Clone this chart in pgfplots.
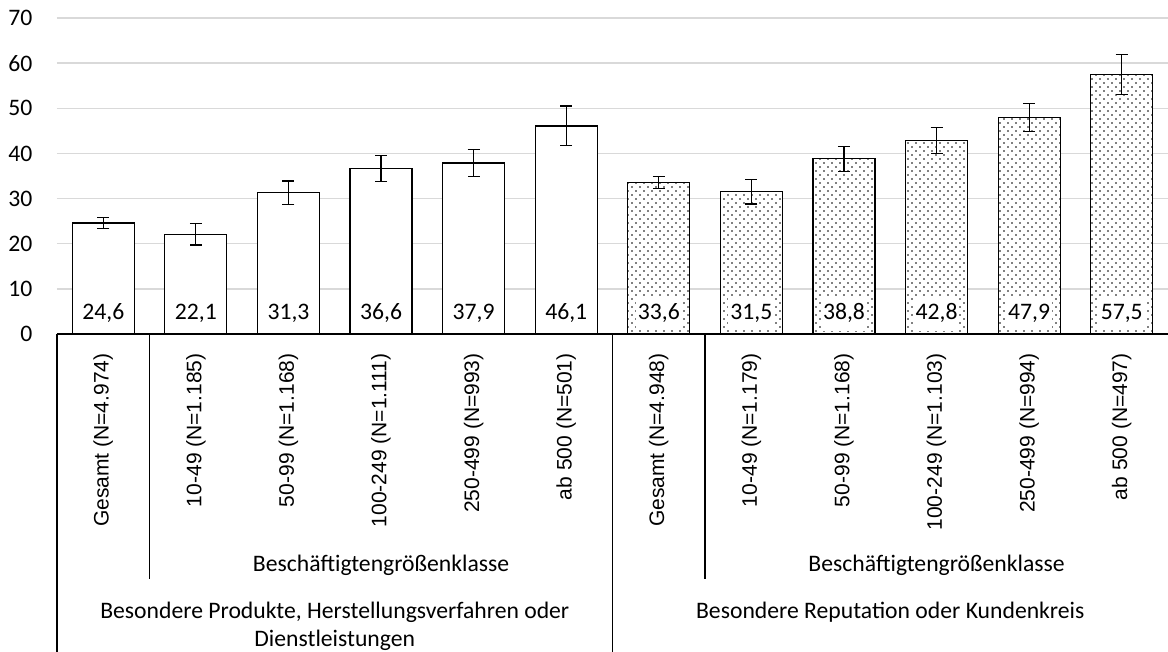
\documentclass[border=0pt]{standalone}
\usepackage{fontspec}
\setmainfont{Carlito}
\newfontfamily\arialf{Liberation Sans}
\usepackage{pgfplots}
\usepackage{pgfplotstable}
\pgfplotsset{compat=1.18}
\usetikzlibrary{patterns}

\definecolor{gridgray}{HTML}{D9D9D9}

% staggered dot raster like the Excel 10% pattern
\pgfdeclarepatternformonly{sparsedots}{\pgfqpoint{-1pt}{-1pt}}{\pgfqpoint{5pt}{5pt}}{\pgfqpoint{6pt}{6pt}}{%
  \pgfpathcircle{\pgfqpoint{0pt}{0pt}}{0.68pt}%
  \pgfpathcircle{\pgfqpoint{3pt}{3pt}}{0.68pt}%
  \pgfusepath{fill}}

\pgfplotstableread{
x y err lab
0 24.6 1.2 4.65
1 22.1 2.4 4.65
2 31.3 2.6 4.65
3 36.6 2.9 4.65
4 37.9 3.0 4.65
5 46.1 4.4 4.65
}\produkte

\pgfplotstableread{
x y err lab
6 33.6 1.3 4.65
7 31.5 2.7 4.65
8 38.8 2.8 4.65
9 42.8 2.9 4.65
10 47.9 3.1 4.65
11 57.5 4.4 4.65
}\reputation

\begin{document}
\fontsize{17.75}{21}\selectfont
\begin{tikzpicture}
\begin{axis}[
  at={(0,0)}, anchor=south west,
  width=833.25pt, height=237pt, scale only axis,
  xmin=-0.5, xmax=11.5, ymin=0, ymax=70,
  axis line style={draw=none},
  tick style={draw=none},
  xtick={0,...,11},
  xticklabels={Gesamt (N=4.974),10-49 (N=1.185),50-99 (N=1.168),100-249 (N=1.111),250-499 (N=993),ab 500 (N=501),
               Gesamt (N=4.948),10-49 (N=1.179),50-99 (N=1.168),100-249 (N=1.103),250-499 (N=994),ab 500 (N=497)},
  xticklabel style={rotate=90, anchor=east, font=\arialf\fontsize{15.75}{19}\selectfont},
  xticklabel shift=8.5pt,
  ytick={0,10,...,70},
  yticklabel shift=12.3pt,
  ymajorgrids, grid style={gridgray, line width=1.1pt},
  bar width=46.5pt,
  clip=false,
  /pgf/number format/assume math mode=true,
]
\addplot[ybar, bar shift=0pt, draw=black, line width=0.9pt, fill=white,
  error bars/.cd, y dir=both, y explicit,
  error bar style={black, line width=0.9pt},
  error mark options={rotate=90, mark size=4.5pt, line width=0.9pt}]
  table[x=x, y=y, y error=err] {\produkte};

\addplot[ybar, bar shift=0pt, draw=black, line width=0.9pt, fill=white,
  postaction={pattern=sparsedots},
  error bars/.cd, y dir=both, y explicit,
  error bar style={black, line width=0.9pt},
  error mark options={rotate=90, mark size=4.5pt, line width=0.9pt}]
  table[x=x, y=y, y error=err] {\reputation};

\addplot[draw=none, mark=none, point meta=explicit,
  nodes near coords={\pgfmathprintnumber[use comma,fixed,fixed zerofill,precision=1]{\pgfplotspointmeta}},
  every node near coord/.style={anchor=center, fill=white, inner xsep=1.5pt, minimum height=26pt}]
  table[x=x, y=lab, meta=y] {\produkte};
\addplot[draw=none, mark=none, point meta=explicit,
  nodes near coords={\pgfmathprintnumber[use comma,fixed,fixed zerofill,precision=1]{\pgfplotspointmeta}},
  every node near coord/.style={anchor=center, fill=white, inner xsep=1.5pt, minimum height=26pt}]
  table[x=x, y=lab, meta=y] {\reputation};

% category axis with group separators
\draw[line width=1.2pt] (axis cs:-0.5,0) -- (axis cs:11.5,0);
\draw[line width=1.2pt] (axis cs:-0.5,0) -- ++(0pt,-240pt);
\draw[line width=1.2pt] (axis cs:5.5,0) -- ++(0pt,-240pt);
\draw[line width=1.2pt] (axis cs:0.5,0) -- ++(0pt,-183.75pt);
\draw[line width=1.2pt] (axis cs:6.5,0) -- ++(0pt,-183.75pt);

\node at ([yshift=-173.25pt]axis cs:3,0) {Beschäftigtengrößenklasse};
\node at ([yshift=-173.25pt]axis cs:9,0) {Beschäftigtengrößenklasse};
\node at ([yshift=-208.5pt]axis cs:2.5,0) {Besondere Produkte, Herstellungsverfahren oder};
\node at ([yshift=-229.5pt]axis cs:2.5,0) {Dienstleistungen};
\node at ([yshift=-208.5pt]axis cs:8.5,0) {Besondere Reputation oder Kundenkreis};
\end{axis}
\pgfresetboundingbox
\path[use as bounding box] (-42.75pt,-237.75pt) rectangle (833.25pt,250.5pt);
\end{tikzpicture}
\end{document}
